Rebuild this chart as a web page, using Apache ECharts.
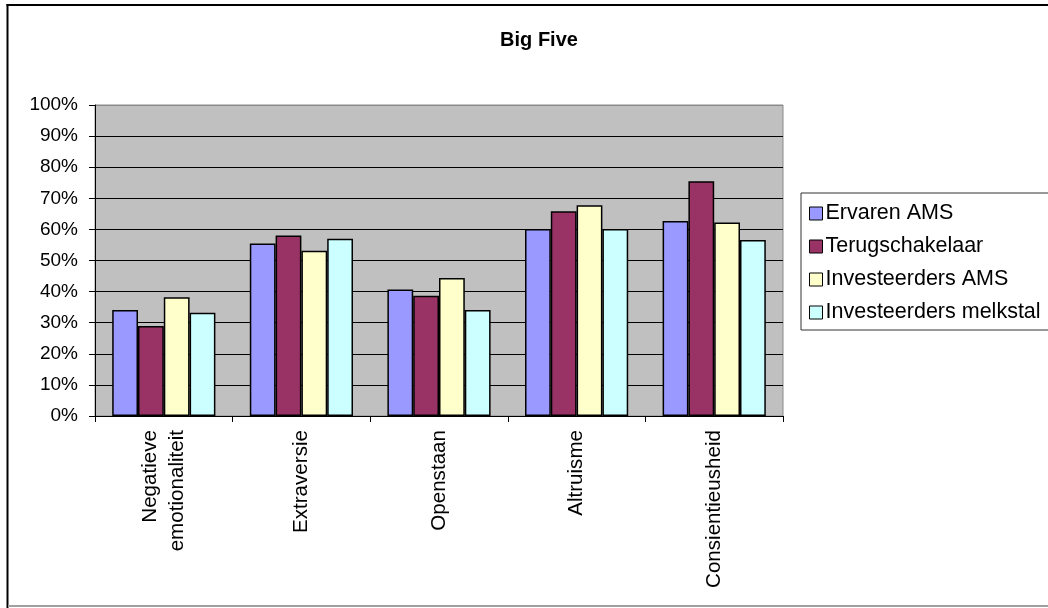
<!DOCTYPE html>
<html>
<head>
<meta charset="utf-8">
<script src="https://cdn.jsdelivr.net/npm/echarts@6/dist/echarts.min.js"></script>
<style>
html,body{margin:0;padding:0;background:#fff;}
#chart{width:1048px;height:608px;}
</style>
</head>
<body>
<div id="chart"></div>
<script>
const categories = ['Negatieve\nemotionaliteit', 'Extraversie', 'Openstaan', 'Altruisme', 'Consientieusheid'];
const seriesNames = ['Ervaren AMS', 'Terugschakelaar', 'Investeerders AMS', 'Investeerders melkstal'];
const ervarenAMS = [34.1, 55.5, 40.7, 60.1, 62.7];
const terugschakelaar = [28.9, 58.0, 38.7, 65.8, 75.5];
const investeerdersAMS = [38.2, 53.1, 44.4, 67.8, 62.2];
const investeerdersMelkstal = [33.2, 57.0, 34.1, 60.1, 56.6];
const colors = ['#9999FF', '#993366', '#FFFFCC', '#CCFFFF'];
const yTicks = { min: 0, max: 100, interval: 10 };

const allData = [ervarenAMS, terugschakelaar, investeerdersAMS, investeerdersMelkstal];
const splitColors = [];
for (let i = 0; i <= 10; i++) splitColors.push(i === 10 ? '#8a8a8a' : '#000000');

const chart = echarts.init(document.getElementById('chart'));
chart.setOption({
  animation: false,
  backgroundColor: '#ffffff',
  title: {
    text: 'Big Five',
    left: 534, top: 25, textAlign: 'center',
    textStyle: { fontFamily: 'Liberation Sans, Arial', fontWeight: 'bold', fontSize: 20, color: '#000' }
  },
  legend: {
    orient: 'vertical',
    left: 801, top: 193,
    padding: [9, 40, 6, 8],
    itemWidth: 13, itemHeight: 13,
    itemGap: 10,
    borderColor: '#333', borderWidth: 1,
    backgroundColor: '#fff',
    icon: 'rect',
    textStyle: { fontFamily: 'Liberation Sans, Arial', fontSize: 21.5, color: '#000', lineHeight: 23, padding: [0, 0, 0, -2] },
    data: seriesNames.map(n => ({ name: n, itemStyle: { borderColor: '#000', borderWidth: 1 } }))
  },
  grid: {
    left: 95, right: 265, top: 105, bottom: 192,
    show: true, backgroundColor: '#C0C0C0', borderColor: '#8a8a8a', borderWidth: 1
  },
  xAxis: {
    type: 'category',
    data: categories,
    axisLine: { show: true, lineStyle: { color: '#000', width: 1 } },
    axisTick: { show: true, length: 6, lineStyle: { color: '#000' } },
    axisLabel: { rotate: 90, margin: 14, fontFamily: 'Liberation Sans, Arial', fontSize: 20.6, lineHeight: 27, color: '#000', interval: 0 }
  },
  yAxis: {
    type: 'value',
    min: yTicks.min, max: yTicks.max, interval: yTicks.interval,
    axisLine: { show: true, lineStyle: { color: '#000', width: 1 } },
    axisTick: { show: true, length: 6, lineStyle: { color: '#000' } },
    axisLabel: { formatter: '{value}%', margin: 17, fontFamily: 'Liberation Sans, Arial', fontSize: 19, color: '#000' },
    splitLine: { show: true, lineStyle: { color: splitColors, width: 1 } }
  },
  series: seriesNames.map((n, i) => ({
    name: n,
    type: 'bar',
    data: allData[i],
    barGap: '0%',
    barCategoryGap: '25%',
    itemStyle: { color: colors[i], borderColor: '#000', borderWidth: 1.5 }
  })),
  graphic: [
    { type: 'line', shape: { x1: 7.5, y1: 4, x2: 7.5, y2: 608 }, style: { stroke: '#000', lineWidth: 2 }, z: 100 },
    { type: 'line', shape: { x1: 6.5, y1: 5, x2: 1048, y2: 5 }, style: { stroke: '#000', lineWidth: 2 }, z: 100 },
    { type: 'line', shape: { x1: 8, y1: 606, x2: 1048, y2: 606 }, style: { stroke: '#a0a0a0', lineWidth: 2 }, z: 100 }
  ]
});
</script>
</body>
</html>
